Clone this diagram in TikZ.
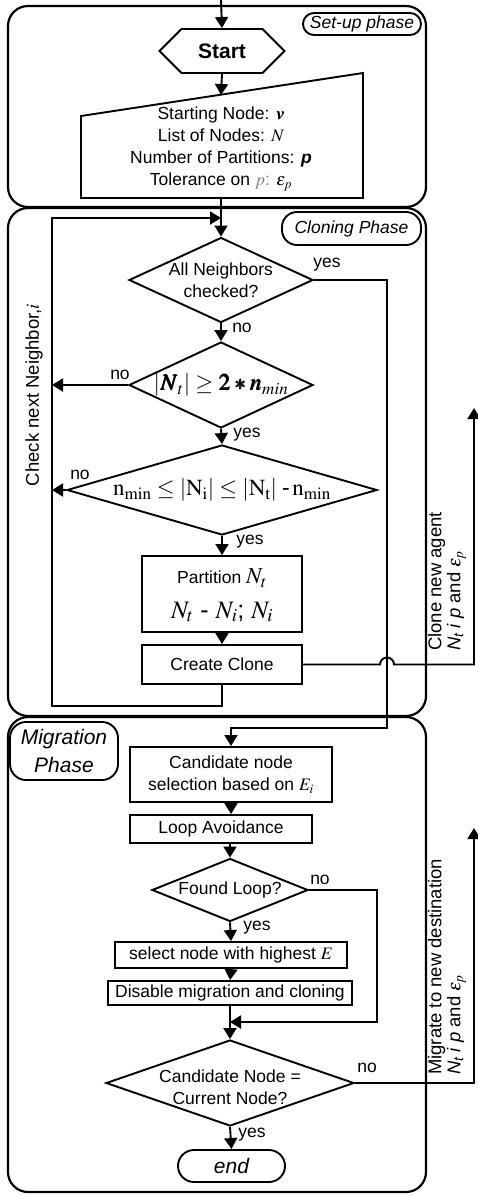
\documentclass[tikz,border=0pt]{standalone}
\usepackage{mathptmx}
\usepackage[no-math]{fontspec}
\usepackage{bm}
\setmainfont{Liberation Sans}
\usepackage{tikz}
\usetikzlibrary{positioning}
\usetikzlibrary{calc,arrows.meta}
\usetikzlibrary{shapes.geometric,shapes.symbols}

\newcommand{\flowfont}{\fontsize{17.5}{22}\selectfont}
\newcommand{\notefont}{\fontsize{18.5}{19}\selectfont}
\newcommand{\bigfont}{\fontsize{21}{28}\selectfont}
\newcommand{\mathfont}{\fontsize{23}{26}\selectfont}

\tikzset{
	flow/.style={line width=1.9pt, -{Triangle[width=13pt,length=11pt]}},
	wire/.style={line width=1.9pt},
	phase/.style={line width=2.2pt, rounded corners=20pt},
	tag/.style={draw, line width=1.9pt, rounded corners=11pt, inner sep=0pt, font=\flowfont\itshape},
	process/.style={draw, line width=1.9pt, inner sep=0pt, font=\flowfont, align=center},
	decision/.style={draw, diamond, line width=1.9pt, inner sep=0pt},
	lbl/.style={font=\flowfont, inner sep=0pt},
}

\begin{document}
\begin{tikzpicture}[x=1pt,y=-1pt]
	\useasboundingbox (0,0) rectangle (477,1195);
	
	% ---------------------
	% Phase frames
	\draw[phase] (8,6) rectangle (426,207);
	\draw[phase] (8,208) rectangle (426,716);
	\draw[phase] (8,717) rectangle (426,1192);
	
	\node[tag, minimum width=118pt, minimum height=22pt] (setupTag) at (362,24) {Set-up phase};
	\node[tag, minimum width=139pt, minimum height=33pt, rounded corners=15pt] (cloneTag) at (351.5,228.5) {Cloning Phase};
	\node[tag, minimum width=108pt, minimum height=58pt, rounded corners=16pt, font=\bigfont\itshape, align=center] (migrTag) at (64,751) {Migration\\Phase};
	
	% ---------------------
	% Set-up phase
	\coordinate (entry) at (221,0);
	\node[draw, signal, signal to=east and west, signal pointer angle=90, line width=1.9pt, minimum width=125pt, minimum height=44pt, inner sep=0pt, font=\bigfont\bfseries] (start) at (222,51) {Start};
	
	\coordinate (inTL) at (81,116);
	\coordinate (inTR) at (363,73);
	\coordinate (inBR) at (363,198);
	\coordinate (inBL) at (81,198);
	\draw[wire] (inTL) -- (inTR) -- (inBR) -- (inBL) -- cycle;
	\node[lbl, align=center] (input) at (221,149) {Starting Node: $\bm{v}$\\ List of Nodes: $N$\\ Number of Partitions: \textbf{\textit{p}}\\ Tolerance on \textcolor{gray}{$p$:} $\varepsilon_p$};
	\coordinate (inTop) at (221,95);
	\coordinate (inBot) at (221,198);
	
	\draw[flow] (entry) -- (start.north);
	\draw[flow] (start.south) -- (inTop);
	
	% ---------------------
	% Cloning phase
	\node[decision, minimum width=184pt, minimum height=85pt] (allNbr) at (221,280) {};
	\node[lbl, align=center] (allNbrTxt) at (allNbr) {All Neighbors\\checked?};
	
	\node[decision, minimum width=184pt, minimum height=86pt] (sizeChk) at (221,385) {};
	\node[lbl, font=\mathfont] (sizeChkTxt) at (sizeChk) {$\left|\bm{N}_t\right| \geq \bm{2 * n}_{min}$};
	
	\node[decision, minimum width=310pt, minimum height=90pt] (rangeChk) at (222,490) {};
	\node[lbl, font=\mathfont] (rangeChkTxt) at (rangeChk) {$\mathrm{n_{min}} \leq \left|\mathrm{N_i}\right| \leq \left|\mathrm{N_t}\right|\,\mbox{-}\,\mathrm{n_{min}}$};
	
	\node[process, minimum width=160pt, minimum height=76pt] (partition) at (222,594) {};
	\node[lbl] (partTop) at ($(partition)+(0,-16)$) {Partition {\mathfont$N_t$}};
	\node[lbl, font=\fontsize{25}{25}\selectfont] (partBot) at ($(partition)+(0,18)$) {$N_t$ - $N_i$; $N_i$};
	
	\node[process, minimum width=160pt, minimum height=39pt] (clone) at (222,664.5) {Create Clone};
	
	\coordinate (join) at (221,218);
	\coordinate (loopBL) at (52,706);
	\coordinate (loopTL) at (52,218);
	\coordinate (yesTurn) at (387,728);
	\coordinate (hopL) at (380,664.5);
	\coordinate (cloneOut) at (474,408);
	
	\draw[flow] (inBot) -- (allNbr.north);
	\draw[flow] (allNbr.south) -- (sizeChk.north);
	\draw[flow] (sizeChk.south) -- (rangeChk.north);
	\draw[flow] (rangeChk.south) -- (partition.north);
	\draw[flow] (partition.south) -- (clone.north);
	\draw[flow] (clone.south) |- (loopBL) -- (loopTL) -- (join);
	\draw[flow] (sizeChk.west) -- (sizeChk.west -| loopTL);
	\draw[flow] (rangeChk.west) -- (rangeChk.west -| loopTL);
	\draw[flow] (clone.east) -- (hopL) arc[start angle=180, end angle=0, radius=7pt] -- (cloneOut |- clone.east) -- (cloneOut);
	
	\node[lbl] (yesA) at (327,265) {yes};
	\node[lbl] (noA) at (242,328) {no};
	\node[lbl] (noB) at (120,375) {no};
	\node[lbl] (yesB) at (247,435) {yes};
	\node[lbl] (noC) at (80,475) {no};
	\node[lbl] (yesC) at (250,542) {yes};
	
	\node[lbl, rotate=90, font=\notefont] (checkNext) at (34,395) {Check next Neighbor,$i$};
	\node[lbl, rotate=90, anchor=west, align=left, font=\notefont] (cloneNote) at (447,651) {Clone new agent\\ \textit{N\textsubscript{t} i p} and $\varepsilon_p$};
	
	% ---------------------
	% Migration phase
	\node[process, minimum width=202pt, minimum height=55pt] (cand) at (231,774.5) {Candidate node\\selection based on $E_i$};
	\node[process, minimum width=182pt, minimum height=28pt] (loopAv) at (221,829) {Loop Avoidance};
	\node[decision, minimum width=156pt, minimum height=63pt] (foundLoop) at (230,890) {};
	\node[lbl] (foundLoopTxt) at (foundLoop) {Found Loop?};
	\node[process, minimum width=232pt, minimum height=26pt] (select) at (231,955) {select node with highest $E$};
	\node[process, minimum width=244pt, minimum height=24pt] (disable) at (230,993) {Disable migration and cloning};
	\node[decision, minimum width=248pt, minimum height=86pt] (sameNode) at (230,1083) {};
	\node[lbl, align=center] (sameNodeTxt) at ($(sameNode)+(0,4)$) {Candidate Node =\\Current Node?};
	\node[draw, line width=1.9pt, rounded corners=16pt, minimum width=107pt, minimum height=32pt, inner sep=0pt, font=\bigfont\itshape] (finish) at (231.5,1166) {end};
	
	\coordinate (loopTurn) at (377,1022);
	\coordinate (migrOut) at (474,828);
	
	\draw[flow] (allNbr.east) -| (yesTurn) -| (cand.north);
	\draw[flow] (cand.south) -- (cand.south |- loopAv.north);
	\draw[flow] (foundLoop.north |- loopAv.south) -- (foundLoop.north);
	\draw[flow] (foundLoop.south) -- (select.north);
	\draw[flow] (select.south) -- (disable.north);
	\draw[flow] (disable.south) -- (sameNode.north);
	\draw[flow] (foundLoop.east) -| (loopTurn) -- (loopTurn -| sameNode.north);
	\draw[flow] (sameNode.east) -| (migrOut);
	\draw[flow] (sameNode.south) -- (finish.north);
	
	\node[lbl] (noD) at (320,880) {no};
	\node[lbl] (yesD) at (257,928) {yes};
	\node[lbl] (noE) at (367,1068) {no};
	\node[lbl] (yesE) at (252,1135) {yes};
	
	\node[lbl, rotate=90, anchor=west, align=left, font=\notefont] (migrNote) at (447,1075) {Migrate to new destination\\ \textit{N\textsubscript{t} i p} and $\varepsilon_p$};
	
\end{tikzpicture}
\end{document}
